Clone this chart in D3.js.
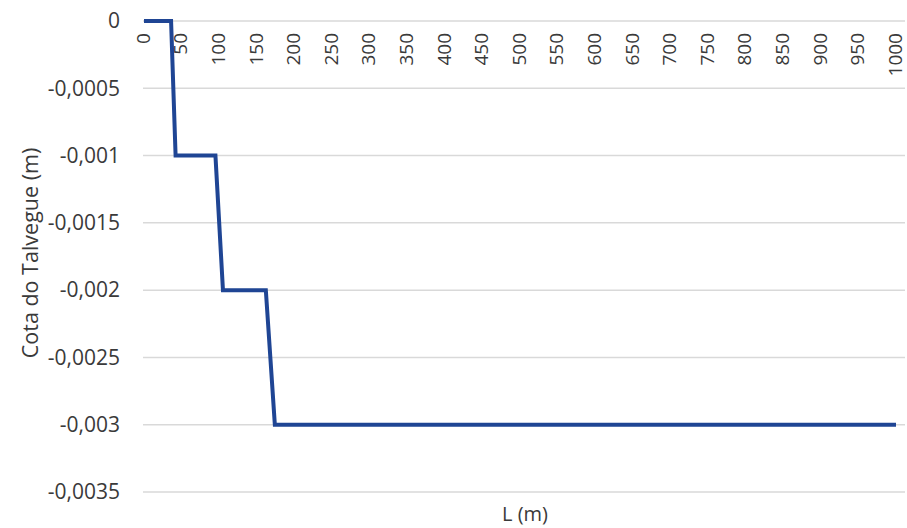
<!DOCTYPE html>
<html>
<head>
<meta charset="UTF-8">
<title></title>
<script src="https://cdn.jsdelivr.net/npm/d3@7"></script>
<style>
  body { margin: 0; background: #fff; }
  text { font-family: "Open Sans", sans-serif; fill: #3a3a3a; }
</style>
</head>
<body>
<div id="chart"></div>
<script>
// data: step profile of the talweg
var lengths = [0, 36, 42, 95, 105, 162, 174, 1000];
var cotas = [0, 0, -0.001, -0.001, -0.002, -0.002, -0.003, -0.003];

var xTicks = [0,50,100,150,200,250,300,350,400,450,500,550,600,650,700,750,800,850,900,950,1000];
var yTicks = [0, -0.0005, -0.001, -0.0015, -0.002, -0.0025, -0.003, -0.0035];
var yLabels = ["0", "-0,0005", "-0,001", "-0,0015", "-0,002", "-0,0025", "-0,003", "-0,0035"];

var width = 907, height = 528;

var svg = d3.select("#chart").append("svg")
  .attr("width", width)
  .attr("height", height);

var x = d3.scaleLinear().domain([0, 1000]).range([144, 896]);
var y = d3.scaleLinear().domain([-0.0035, 0]).range([492, 21]);

// gridlines
svg.append("g").selectAll("line").data(yTicks).enter().append("line")
  .attr("x1", 143).attr("x2", 905)
  .attr("y1", function(d) { return y(d); })
  .attr("y2", function(d) { return y(d); })
  .attr("stroke", "#d9d9d9")
  .attr("stroke-width", 1.5);

// y labels
svg.append("g").selectAll("text").data(yTicks).enter().append("text")
  .attr("x", 120)
  .attr("y", function(d) { return y(d); })
  .attr("dy", "0.35em")
  .attr("text-anchor", "end")
  .style("font-size", "21px")
  .text(function(d, i) { return yLabels[i]; });

// x labels, rotated, under the top axis
svg.append("g").selectAll("text").data(xTicks).enter().append("text")
  .attr("transform", function(d) { return "translate(" + x(d) + ",33) rotate(-90)"; })
  .attr("dy", "0.3em")
  .attr("text-anchor", "end")
  .style("font-size", "19px")
  .text(function(d) { return d; });

// line
var line = d3.line()
  .x(function(d, i) { return x(lengths[i]); })
  .y(function(d) { return y(d); });

svg.append("path")
  .datum(cotas)
  .attr("d", line)
  .attr("fill", "none")
  .attr("stroke", "#1f4594")
  .attr("stroke-width", 4)
  .attr("stroke-linejoin", "miter");

// axis titles
svg.append("text")
  .attr("transform", "translate(30,253) rotate(-90)")
  .attr("dy", "0.35em")
  .attr("text-anchor", "middle")
  .style("font-size", "21.5px")
  .text("Cota do Talvegue (m)");

svg.append("text")
  .attr("x", 525)
  .attr("y", 514)
  .attr("dy", "0.35em")
  .attr("text-anchor", "middle")
  .style("font-size", "20px")
  .text("L (m)");
</script>
</body>
</html>
